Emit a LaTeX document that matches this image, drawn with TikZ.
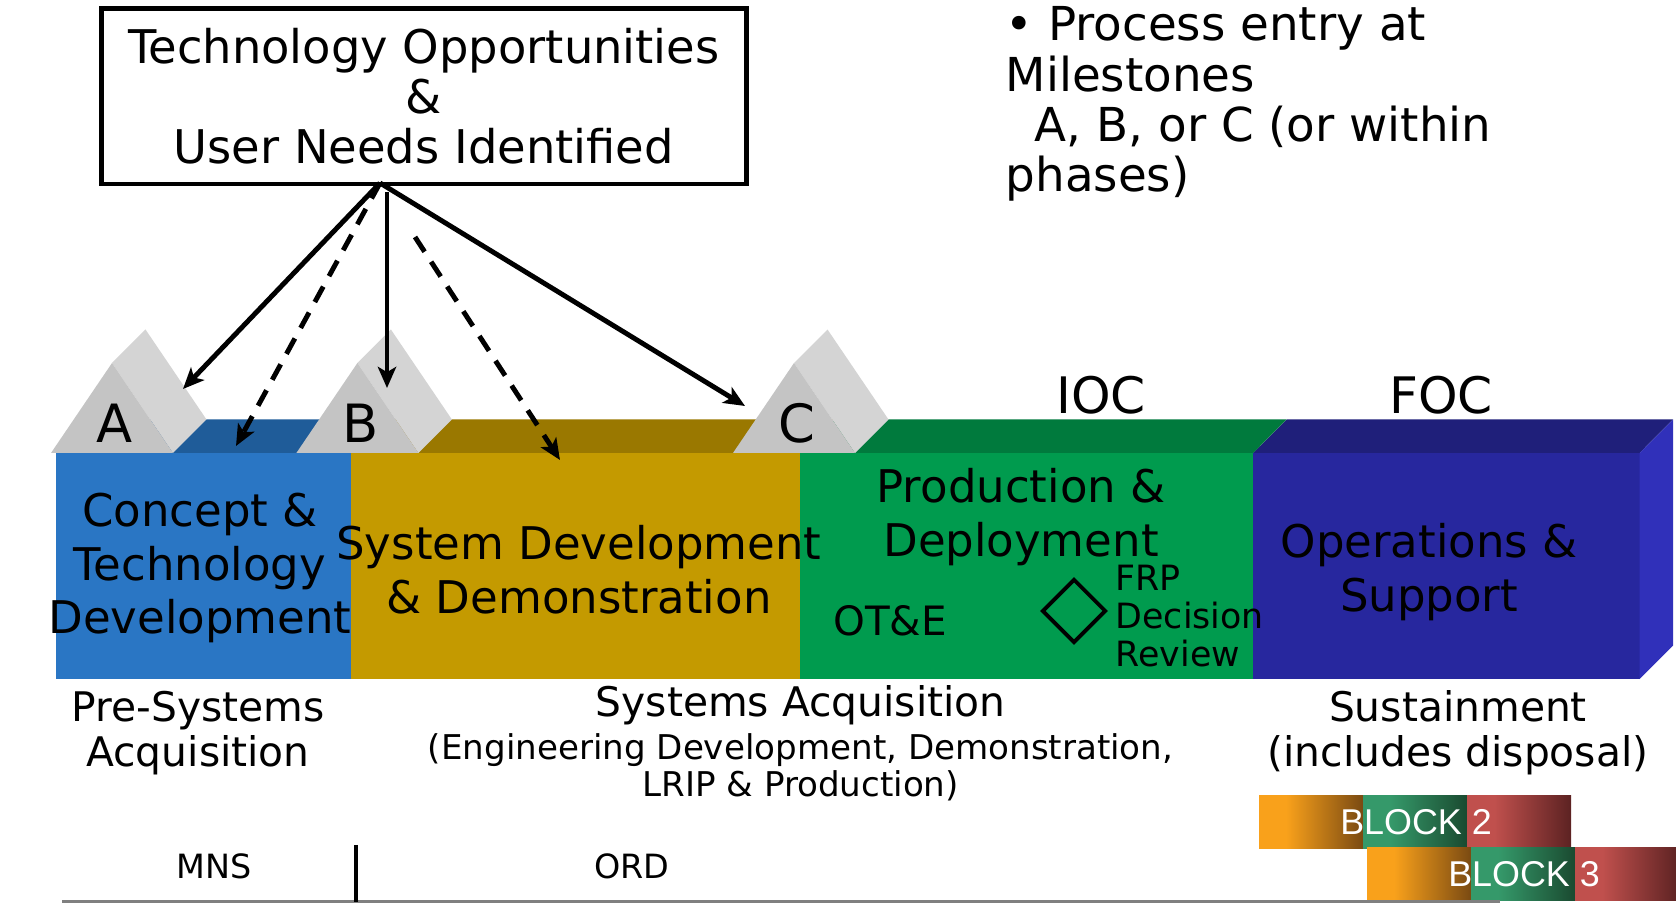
\documentclass[tikz,border=0pt]{standalone}
\usepackage{fontspec}
\setmainfont{DejaVu Sans}
\newfontfamily\blockfont{Liberation Sans}
\usepackage{tikz}
\usetikzlibrary{
    arrows.meta,
    positioning,
    shapes.geometric
}
\definecolor{ctdfront}{HTML}{2A76C4}
\definecolor{ctdtop}{HTML}{1F5C99}
\definecolor{sddfront}{HTML}{C49A00}
\definecolor{sddtop}{HTML}{9A7800}
\definecolor{pdfront}{HTML}{009B4E}
\definecolor{pdtop}{HTML}{007A3D}
\definecolor{osfront}{HTML}{27279E}
\definecolor{ostop}{HTML}{1F1F7A}
\definecolor{osside}{HTML}{3030BA}
\definecolor{msfront}{HTML}{C4C4C4}
\definecolor{msside}{HTML}{D4D4D4}
\definecolor{blkorange}{HTML}{F9A11B}
\definecolor{blkbrown}{HTML}{7A4A12}
\definecolor{blkgreen}{HTML}{35996A}
\definecolor{blkdkgreen}{HTML}{1A4A30}
\definecolor{blkred}{HTML}{C0504D}
\definecolor{blkdkred}{HTML}{5C2222}
\pgfdeclarehorizontalshading{orangefade}{100bp}{color(0bp)=(blkorange); color(38bp)=(blkorange); color(75bp)=(blkbrown); color(100bp)=(blkbrown)}
\pgfdeclarehorizontalshading{greenfade}{100bp}{color(0bp)=(blkgreen); color(38bp)=(blkgreen); color(75bp)=(blkdkgreen); color(100bp)=(blkdkgreen)}
\pgfdeclarehorizontalshading{redfade}{100bp}{color(0bp)=(blkred); color(38bp)=(blkred); color(75bp)=(blkdkred); color(100bp)=(blkdkred)}
\tikzset{
    entry box/.style={
        rectangle, draw, line width=1.3pt, inner sep=0pt,
        minimum width=6.445cm, minimum height=1.755cm,
        align=center, font=\fontsize{13.2}{14.2}\selectfont
    },
    note text/.style={
        align=left, inner sep=0pt, font=\fontsize{13.3}{14.3}\selectfont
    },
    phase front/.style={
        rectangle, fill=#1, inner sep=0pt, outer sep=0pt,
        minimum height=2.26cm
    },
    phase label/.style={
        align=center, inner sep=0pt, font=\fontsize{12.8}{15.2}\selectfont
    },
    milestone letter/.style={
        inner sep=0pt, font=\fontsize{15}{18}\selectfont
    },
    stage mark/.style={
        inner sep=0pt, font=\fontsize{14.3}{17}\selectfont
    },
    small label/.style={
        align=left, inner sep=0pt, font=\fontsize{9.9}{10.8}\selectfont
    },
    era label/.style={
        align=center, inner sep=0pt, font=\fontsize{11.6}{12.8}\selectfont
    },
    era note/.style={
        align=center, inner sep=0pt, font=\fontsize{9.7}{10.6}\selectfont
    },
    doc label/.style={
        inner sep=0pt, font=\fontsize{9.5}{11}\selectfont
    },
    block seg/.style={
        rectangle, shade, shading=#1, inner sep=0pt, outer sep=0pt,
        minimum width=1.04cm, minimum height=0.52cm
    },
    block label/.style={
        inner sep=0pt, text=white, font=\blockfont\fontsize{10.2}{12}\selectfont
    },
    entry arrow/.style={
        -{Stealth[length=6pt, width=5.2pt, inset=1.5pt]}, line width=1.4pt
    },
    entry dashed/.style={
        entry arrow, dash pattern=on 5pt off 3.4pt
    },
    milestone/.pic={
        \fill[msside] (61,-90) -- (94.5,-123.5) -- (155.5,-33.5) -- (122,0) -- cycle;
        \fill[msfront] (0,0) -- (61,-90) -- (122,0) -- cycle;
        \node[milestone letter] (-letter) at (64,-30) {\tikzpictext};
    },
}
\begin{document}
\begin{tikzpicture}[x=0.01cm, y=-0.01cm]
    \useasboundingbox (0,0) rectangle (1676,904);

    \node[entry box] (needs) at (423.8,96.3) {Technology Opportunities\\\&\\User Needs Identified};

    \node[note text, anchor=north west] (entry) at (1005,6) {• Process entry at\\Milestones\\\hspace{8.3pt}A, B, or C (or within\\phases)};

    % Phase fronts
    \node[phase front=ctdfront, minimum width=2.95cm, anchor=north west] (ctd) at (55.6,453) {};
    \node[phase front=sddfront, minimum width=4.49cm, right=0pt of ctd] (sdd) {};
    \node[phase front=pdfront, minimum width=4.53cm, right=0pt of sdd] (pd) {};
    \node[phase front=osfront, minimum width=3.86cm, right=0pt of pd] (os) {};

    % Top faces
    \fill[ctdtop] (ctd.north west) -- ++(33.5,-33.5) -- ++(295,0) -- (ctd.north east) -- cycle;
    \fill[sddtop] (sdd.north west) -- ++(33.5,-33.5) -- ++(449,0) -- (sdd.north east) -- cycle;
    \fill[pdtop] (pd.north west) -- ++(33.5,-33.5) -- ++(453,0) -- (pd.north east) -- cycle;
    \fill[ostop] (os.north west) -- ++(33.5,-33.5) -- ++(386,0) -- (os.north east) -- cycle;
    \fill[osside] (os.north east) -- ++(33.5,-33.5) -- ++(0,226) -- (os.south east) -- cycle;

    % Milestones
    \pic[pic text=A] (msA) at (51,453) {milestone};
    \pic[pic text=B] (msB) at (296.4,453) {milestone};
    \pic[pic text=C] (msC) at (733,453) {milestone};

    \node[stage mark] (ioc) at (1101,395.5) {IOC};
    \node[stage mark] (foc) at (1441,395.5) {FOC};

    % Phase labels
    \node[phase label] (ctdtext) at (200,568) {Concept \&\\Technology\\Development};
    \node[phase label] (sddtext) at (579,569.5) {System Development\\\& Demonstration};
    \node[phase label] (pdtext) at (1021,517) {Production \&\\Deployment};
    \node[phase label] (ostext) at (1429,572) {Operations \&\\Support};
    \node[inner sep=0pt, font=\fontsize{11.5}{13}\selectfont] (ote) at (890,621) {OT\&E};
    \node[diamond, draw, line width=1.1pt, inner sep=0pt, minimum size=0.64cm] (frp) at (1074,611) {};
    \node[small label, anchor=west] (frptext) at (1115,616) {FRP\\Decision\\Review};

    % Eras
    \node[era label] (pre) at (198,733) {Pre-Systems\\Acquisition};
    \node[era label] (sa) at (800.6,705) {Systems Acquisition};
    \node[era note, below=0.07cm of sa] (sanote) {(Engineering Development, Demonstration,\\LRIP \& Production)};
    \node[era label] (sust) at (1458,733) {Sustainment\\(includes disposal)};

    % Blocks
    \node[block seg=orangefade, anchor=north west] (b2o) at (1259,796) {};
    \node[block seg=greenfade, right=0pt of b2o] (b2g) {};
    \node[block seg=redfade, right=0pt of b2g] (b2r) {};
    \node[block seg=orangefade, anchor=north west] (b3o) at (1367,848) {};
    \node[block seg=greenfade, right=0pt of b3o] (b3g) {};
    \node[block seg=redfade, right=0pt of b3g] (b3r) {};
    \node[block label] at (1416,822) {BLOCK 2};
    \node[block label] at (1524,874) {BLOCK 3};

    % Documents
    \draw[gray, line width=0.6pt] (62,901.5) -- (1500,901.5);
    \draw[line width=0.9pt] (356,845) -- (356,901.5);
    \node[doc label] (mns) at (214,866) {MNS};
    \node[doc label] (ord) at (632,866) {ORD};

    % Entry arrows
    \coordinate (hub) at (380,183);
    \coordinate (hubB) at (387,192);
    \coordinate (hubSDD) at (415,237);
    \coordinate (atA) at (183,389);
    \coordinate (atCTD) at (236,446);
    \coordinate (atB) at (387,388);
    \coordinate (atSDD) at (560,460);
    \coordinate (atC) at (745,406);
    \draw[entry arrow] (hub) -- (atA);
    \draw[entry dashed] (hub) -- (atCTD);
    \draw[entry arrow] (hubB) -- (atB);
    \draw[entry dashed] (hubSDD) -- (atSDD);
    \draw[entry arrow] (hub) -- (atC);
\end{tikzpicture}
\end{document}
